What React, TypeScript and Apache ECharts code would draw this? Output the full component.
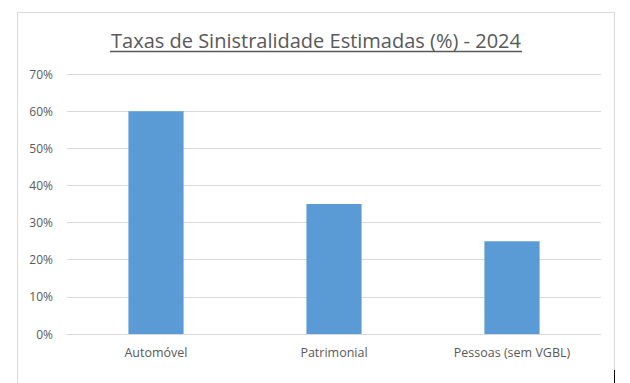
import React, { useEffect, useRef } from "react";
import * as echarts from "echarts";

const categories = ["Automóvel", "Patrimonial", "Pessoas (sem VGBL)"];
const values = [60, 35, 25];
const titleText = "Taxas de Sinistralidade Estimadas (%) - 2024";

export default function App() {
  const ref = useRef<HTMLDivElement>(null);
  useEffect(() => {
    document.body.style.margin = "0";
    const chart = echarts.init(ref.current!, null, { renderer: "svg" });
    chart.setOption({
      animation: false,
      backgroundColor: "#ffffff",
      grid: { left: 67, right: 29, top: 74, bottom: 49 },
      xAxis: {
        type: "category",
        data: categories,
        axisLine: { lineStyle: { color: "#D9D9D9" } },
        axisTick: { show: false },
        axisLabel: { color: "#595959", fontSize: 12.5, fontFamily: "Open Sans", margin: 12 },
      },
      yAxis: {
        type: "value",
        min: 0,
        max: 70,
        interval: 10,
        axisLine: { show: false },
        axisTick: { show: false },
        splitLine: { lineStyle: { color: "#D9D9D9" } },
        axisLabel: { color: "#595959", fontSize: 12, fontFamily: "Open Sans", formatter: "{value}%", margin: 14 },
      },
      series: [
        {
          type: "bar",
          data: values,
          barWidth: "31%",
          itemStyle: { color: "#5B9BD5" },
        },
      ],
      graphic: [
        {
          type: "rect",
          shape: { x: 17.5, y: 12.5, width: 597, height: 380 },
          style: { fill: "none", stroke: "#D9D9D9", lineWidth: 1 },
          silent: true,
        },
        {
          type: "line",
          shape: { x1: 614.5, y1: 370, x2: 614.5, y2: 383 },
          style: { stroke: "#000000", lineWidth: 1 },
        },
        {
          type: "text",
          x: 316,
          y: 40,
          style: {
            text: titleText,
            fill: "#595959",
            font: "20px 'Open Sans'",
            align: "center",
            verticalAlign: "middle",
          },
        },
        {
          type: "line",
          shape: { x1: 110, y1: 51.5, x2: 522, y2: 51.5 },
          style: { stroke: "#595959", lineWidth: 1.5 },
        },
      ],
    });
    return () => chart.dispose();
  }, []);
  return <div ref={ref} style={{ width: 630, height: 383 }} />;
}
